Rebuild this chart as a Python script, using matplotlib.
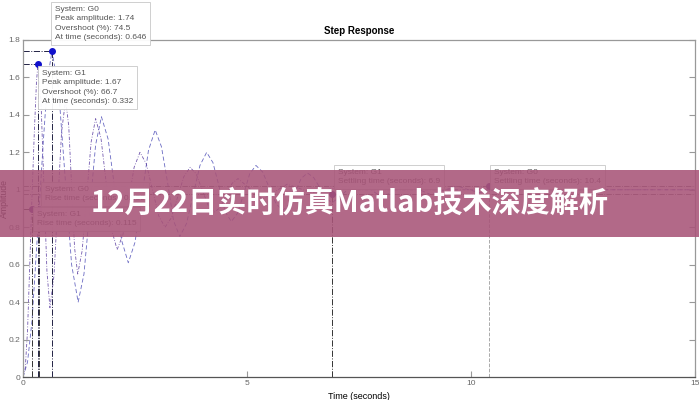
import matplotlib.pyplot as plt
from matplotlib.patches import Rectangle

plt.rcParams['font.family'] = ['Liberation Sans', 'DejaVu Sans']

# step response of G0
t_g0 = [0, 0.1, 0.2, 0.3, 0.36, 0.45, 0.55, 0.646,
        0.792, 0.938, 1.084, 1.23,
        1.36, 1.49, 1.62, 1.75,
        1.90, 2.05, 2.20, 2.35,
        2.50, 2.65, 2.80, 2.95,
        3.09, 3.23, 3.36, 3.5,
        3.65, 3.80, 3.95, 4.1,
        4.24, 4.38, 4.51, 4.65,
        4.79, 4.93, 5.06, 5.2,
        5.35, 5.5, 5.65, 5.8,
        5.94, 6.08, 6.21, 6.35,
        6.49, 6.63, 6.76, 6.9,
        7.2, 7.5, 7.75, 8.0, 8.3, 8.6, 8.85, 9.1, 9.4, 9.7, 9.95,
        10.2, 10.5, 10.8, 11.2, 15]
y_g0 = [0, 0.08, 0.3, 0.68, 0.9, 1.25, 1.6, 1.74,
        1.54, 1.07, 0.60, 0.40,
        0.55, 0.895, 1.24, 1.39,
        1.27, 1.00, 0.73, 0.61,
        0.72, 0.965, 1.21, 1.32,
        1.23, 1.035, 0.835, 0.75,
        0.82, 0.975, 1.13, 1.20,
        1.145, 1.015, 0.885, 0.83,
        0.875, 0.98, 1.085, 1.13,
        1.095, 1.01, 0.925, 0.89,
        0.92, 0.99, 1.06, 1.09,
        1.065, 1.01, 0.955, 0.93,
        0.99, 1.05, 1.005, 0.96, 0.995, 1.03, 1.0, 0.975, 0.998, 1.02, 1.0,
        0.985, 1.0, 1.01, 1.0, 1.0]

# step response of G1
t_g1 = [0, 0.05, 0.1, 0.15, 0.19, 0.25, 0.3, 0.332,
        0.40, 0.466, 0.533, 0.6,
        0.69, 0.775, 0.86, 0.95,
        1.02, 1.085, 1.15, 1.22,
        1.32, 1.42, 1.52, 1.62,
        1.74, 1.86, 1.98, 2.1,
        2.23, 2.355, 2.48, 2.61,
        2.75, 2.89, 3.03, 3.17,
        3.31, 3.45, 3.59, 3.73,
        3.865, 4.0, 4.135, 4.27,
        4.40, 4.535, 4.67, 4.8,
        5.07, 5.35, 5.62, 5.9, 6.17, 6.45, 6.72, 7.0, 7.3, 15]
y_g1 = [0, 0.05, 0.25, 0.6, 0.9, 1.3, 1.58, 1.67,
        1.475, 1.02, 0.565, 0.37,
        0.54, 0.925, 1.31, 1.48,
        1.34, 1.015, 0.69, 0.55,
        0.675, 0.965, 1.255, 1.38,
        1.275, 1.03, 0.785, 0.68,
        0.76, 0.94, 1.12, 1.20,
        1.14, 1.0, 0.86, 0.80,
        0.85, 0.96, 1.07, 1.12,
        1.085, 1.0, 0.915, 0.88,
        0.905, 0.97, 1.035, 1.06,
        1.005, 0.95, 0.99, 1.03, 1.007, 0.985, 0.998, 1.01, 1.0, 1.0]

# characteristics
peak_t = [0.646, 0.332]
peak_y = [1.74, 1.67]
rise_t = [0.36, 0.19]
settle_t = [10.4, 6.9]
xticks = [0, 5, 10, 15]
yticks = [0, 0.2, 0.4, 0.6, 0.8, 1, 1.2, 1.4, 1.6, 1.8]
ytick_labels = ['0', '0.2', '0.4', '0.6', '0.8', '1', '1.2', '1.4', '1.6', '1.8']

fig = plt.figure(figsize=(6.99, 4.0), dpi=100)
ax = fig.add_axes([0.033, 0.0575, 0.961, 0.8425])

ax.plot(t_g0, y_g0, color='#5050b8', lw=0.6, ls=(0, (5, 3)), alpha=0.85)
ax.plot(t_g1, y_g1, color='#5a3ca0', lw=0.6, ls=(0, (4, 2, 1, 2)), alpha=0.85)

# settling bands
for lev in [1.02, 0.98]:
    ax.plot([0, 15], [lev, lev], color='#555555', lw=0.6, ls='-.')

# peak guides
for pt, py in zip(peak_t, peak_y):
    ax.plot([0, pt], [py, py], color='#222244', lw=0.7, ls='-.')
    ax.plot([pt, pt], [0, py], color='#222244', lw=0.7, ls='-.')
    ax.plot(pt, py, 'o', color='#1010cc', ms=4)

# rise time guides
for rt in rise_t:
    ax.plot([rt, rt], [0, 0.9], color='#333333', lw=0.7, ls='-.')
    ax.plot([0, rt], [0.9, 0.9], color='#333333', lw=0.7, ls='-.')
ax.plot(rise_t[1], 0.9, 'o', color='#55208a', ms=4)
ax.plot(rise_t[0], 0.9, 'o', color='#3a2aa0', ms=3.5)

# settling time guides
ax.plot([settle_t[1], settle_t[1]], [0, 0.98], color='#333333', lw=0.7, ls='-.')
ax.plot([settle_t[0], settle_t[0]], [0, 1.02], color='#aaaaaa', lw=0.7, ls='--')
ax.plot(settle_t[1], 0.98, 'o', color='#55208a', ms=4)
ax.plot(settle_t[0], 1.02, 'o', color='#55208a', ms=4)

ax.set_xlim(0, 15)
ax.set_ylim(0, 1.8)
ax.set_xticks(xticks)
ax.set_yticks(yticks)
ax.set_yticklabels(ytick_labels)
ax.tick_params(direction='in', length=4, labelsize=6, colors='#999999',
               labelcolor='#666666', right=True, top=False, pad=2)
for s in ax.spines.values():
    s.set_color('#999999')
    s.set_linewidth(0.9)
ax.spines['bottom'].set_color('#555555')

ax.set_title('Step Response', fontsize=7, fontweight='bold', pad=4)
ax.set_xlabel('Time (seconds)', fontsize=6.5)
ax.set_ylabel('Amplitude', fontsize=6.3)
ax.xaxis.set_label_coords(0.5, -0.045)
ax.yaxis.set_label_coords(-0.0215, 0.53)

# data tips
box = dict(boxstyle='square,pad=0.45', fc='white', ec='#cccccc', lw=0.7, alpha=0.95)
tips = [
    (55, 6, 'System: G0\nPeak amplitude: 1.74\nOvershoot (%): 74.5\nAt time (seconds): 0.646'),
    (42, 70, 'System: G1\nPeak amplitude: 1.67\nOvershoot (%): 66.7\nAt time (seconds): 0.332'),
    (45, 186, 'System: G0\nRise time (seconds): 0.239'),
    (37, 211, 'System: G1\nRise time (seconds): 0.115'),
    (338, 169, 'System: G1\nSettling time (seconds): 6.9'),
    (494, 169, 'System: G0\nSettling time (seconds): 10.4'),
]
for px, py, txt in tips:
    fig.text(px / 699, 1 - py / 400, txt, fontsize=6, color='#555555',
             va='top', ha='left', linespacing=1.45, bbox=box, zorder=5)

# banner
fig.patches.append(Rectangle((0, 1 - 237 / 400), 1, 67 / 400, transform=fig.transFigure,
                             fc='#a85478', alpha=0.88, ec='none', zorder=10))
fig.text(0.5, 1 - 203 / 400, '12月22日实时仿真Matlab技术深度解析', fontsize=21,
         fontweight='bold', color='white', ha='center', va='center',
         family=['Noto Sans CJK SC', 'DejaVu Sans'], zorder=11)

fig.savefig('out.png', dpi=100)
